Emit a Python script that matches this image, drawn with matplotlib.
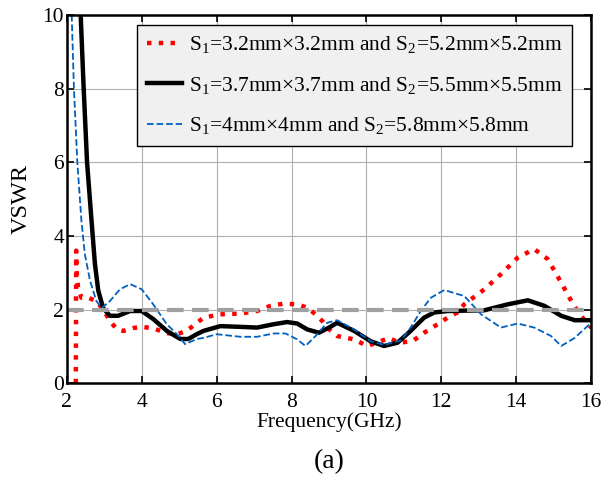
import matplotlib
matplotlib.use('Agg')
import matplotlib.pyplot as plt

plt.rcParams['font.family'] = 'Liberation Serif'
plt.rcParams['mathtext.fontset'] = 'custom'
plt.rcParams['mathtext.rm'] = 'Liberation Serif'
plt.rcParams['mathtext.it'] = 'Liberation Serif'

# red dotted: S1=3.2mm, S2=5.2mm
f_red = [2.24, 2.25, 2.26, 2.3, 2.39, 2.57, 2.79, 2.97, 3.15, 3.33, 3.51, 3.78, 4.04, 4.36, 4.67,
         4.94, 5.2, 5.4, 5.65, 6.1, 6.63, 7.08, 7.44, 7.79, 8.15, 8.42, 8.64, 8.82, 8.95, 9.22,
         9.67, 10.02, 10.38, 10.6, 10.87, 11.23, 11.54, 11.9, 12.17, 12.43, 12.61, 13.15, 13.59,
         14.04, 14.48, 14.84, 15.2, 15.47, 15.69, 16.0]
v_red = [0.0, 3.6, 3.05, 2.6, 2.32, 2.32, 2.23, 2.0, 1.69, 1.47, 1.42, 1.5, 1.53, 1.47, 1.36,
         1.33, 1.42, 1.58, 1.78, 1.87, 1.89, 1.96, 2.1, 2.16, 2.14, 2.05, 1.87, 1.69, 1.51, 1.28,
         1.19, 1.01, 1.14, 1.23, 1.1, 1.14, 1.37, 1.6, 1.78, 1.92, 2.14, 2.55, 2.96,
         3.41, 3.64, 3.37, 2.73, 2.23, 1.87, 1.51]

# black solid: S1=3.7mm, S2=5.5mm
f_blk = [2.37, 2.45, 2.54, 2.66, 2.75, 2.84, 2.97, 3.15, 3.37, 3.69, 4.0, 4.31, 4.67, 5.03, 5.24,
         5.47, 5.65, 6.1, 6.63, 7.08, 7.52, 7.88, 8.15, 8.42, 8.73, 9.0, 9.22, 9.67, 10.11, 10.47,
         10.83, 11.18, 11.54, 11.81, 12.17, 13.15, 13.77, 14.31, 14.75, 15.2, 15.56, 16.0]
v_blk = [10.0, 8.0, 6.0, 4.41, 3.24, 2.51, 2.04, 1.83, 1.83, 1.96, 1.96, 1.74, 1.42, 1.2, 1.2,
         1.33, 1.42, 1.55, 1.53, 1.51, 1.6, 1.66, 1.62, 1.46, 1.37, 1.51, 1.64, 1.42, 1.14, 1.01,
         1.1, 1.42, 1.78, 1.92, 1.96, 1.98, 2.14, 2.25, 2.1, 1.83, 1.71, 1.71]

# blue dashed: S1=4mm, S2=5.8mm
f_blu = [2.13, 2.19, 2.28, 2.39, 2.48, 2.62, 2.79, 2.93, 3.15, 3.42, 3.69, 4.0, 4.3, 4.67, 4.94,
         5.16, 5.47, 5.65, 6.0, 6.63, 7.08, 7.52, 7.84, 8.15, 8.37, 8.64, 8.95, 9.22, 9.67, 10.11,
         10.47, 10.92, 11.18, 11.45, 11.72, 12.08, 12.43, 12.61, 13.06, 13.59, 14.04, 14.48,
         14.93, 15.2, 15.56, 16.0]
v_blu = [10.0, 8.0, 6.0, 4.41, 3.51, 2.78, 2.23, 2.04, 2.23, 2.55, 2.69, 2.55, 2.15, 1.6, 1.33,
         1.06, 1.2, 1.23, 1.33, 1.26, 1.26, 1.35, 1.35, 1.19, 1.01, 1.28, 1.64, 1.71, 1.46, 1.14,
         1.04, 1.16, 1.51, 1.96, 2.32, 2.53, 2.42, 2.37, 1.87, 1.51, 1.62, 1.51,
         1.28, 1.01, 1.23, 1.64]

ref_level = 2.0
labels = [r'S$_1$=3.2mm×3.2mm and S$_2$=5.2mm×5.2mm',
          r'S$_1$=3.7mm×3.7mm and S$_2$=5.5mm×5.5mm',
          r'S$_1$=4mm×4mm and S$_2$=5.8mm×5.8mm']

fig = plt.figure(figsize=(6.02, 4.79), dpi=100)
ax = fig.add_axes([0.111, 0.200, 0.871, 0.769])

ax.plot(f_red, v_red, ':', color='#ff0000', lw=3.2, label=labels[0])
ax.plot(f_blk, v_blk, '-', color='black', lw=3.2, label=labels[1])
ax.plot(f_blu, v_blu, '--', color='#0060c0', lw=1.3, label=labels[2])
ax.plot([2, 16], [ref_level, ref_level], '--', color='#a0a0a0', lw=3, dashes=(4, 2))

ax.set_xlim(2, 16)
ax.set_ylim(0, 10)
ax.set_xticks(range(2, 17, 2))
ax.set_yticks(range(0, 11, 2))
ax.grid(True, color='#b0b0b0', lw=0.8)
ax.tick_params(direction='in', top=True, right=True, labelsize=15.5, length=5, width=1.2)
ax.tick_params(axis='x', pad=7)
ax.tick_params(axis='y', pad=2)
for s in ax.spines.values():
    s.set_linewidth(1.8)

ax.set_xlabel('Frequency(GHz)', fontsize=15.5, labelpad=0)
ax.set_ylabel('VSWR', fontsize=17.5, labelpad=8)

leg = ax.legend(loc='upper right', bbox_to_anchor=(0.964, 0.973), fontsize=15.5,
                fancybox=False, framealpha=1, facecolor='#f0f0f0', edgecolor='black',
                handlelength=1.6, borderaxespad=0, labelspacing=0.9, handletextpad=0.35,
                borderpad=0.45)
leg.get_frame().set_linewidth(1.0)

fig.text(0.5 * (0.111 + 0.982), 0.036, '(a)', ha='center', va='center', fontsize=20)

fig.savefig('out.png', dpi=100)
